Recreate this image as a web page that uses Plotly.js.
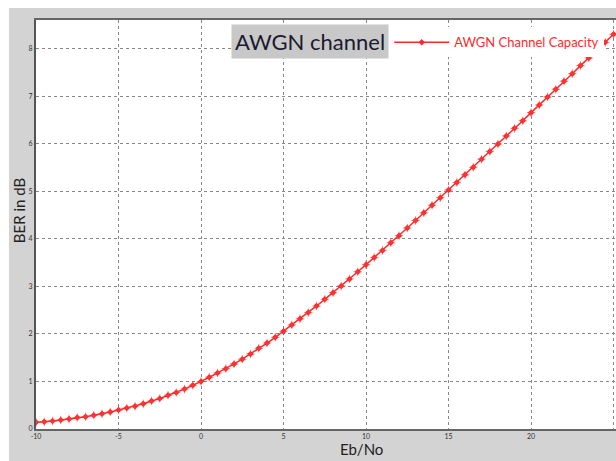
<!DOCTYPE html>
<html>
<head>
<meta charset="utf-8">
<script src="https://cdn.plot.ly/plotly-3.0.1.min.js"></script>
<style>
html,body{margin:0;padding:0;background:#ffffff;width:616px;height:461px;overflow:hidden;}
#chart{position:absolute;left:9px;top:8px;width:607px;height:453px;}
</style>
</head>
<body>
<div id="chart"></div>
<script>
// Eb/No values (dB), 0.5 dB steps
const ebno = [-10,-9.5,-9,-8.5,-8,-7.5,-7,-6.5,-6,-5.5,-5,-4.5,-4,-3.5,-3,-2.5,-2,-1.5,-1,-0.5,
  0,0.5,1,1.5,2,2.5,3,3.5,4,4.5,5,5.5,6,6.5,7,7.5,8,8.5,9,9.5,
  10,10.5,11,11.5,12,12.5,13,13.5,14,14.5,15,15.5,16,16.5,17,17.5,18,18.5,19,19.5,
  20,20.5,21,21.5,22,22.5,23,23.5,24,24.5,25];
// Capacity
const capacity = [0.14,0.15,0.17,0.19,0.21,0.24,0.26,0.29,0.32,0.36,0.40,0.44,0.48,0.53,0.59,0.64,0.71,0.77,0.84,0.92,
  1.00,1.09,1.18,1.27,1.37,1.47,1.58,1.70,1.81,1.93,2.06,2.19,2.32,2.45,2.59,2.73,2.87,3.01,3.16,3.31,
  3.46,3.61,3.76,3.92,4.07,4.23,4.39,4.55,4.71,4.87,5.03,5.19,5.35,5.51,5.68,5.84,6.00,6.17,6.33,6.49,
  6.66,6.82,6.99,7.15,7.32,7.48,7.65,7.81,7.98,8.14,8.31];
const xTicks = [-10,-5,0,5,10,15,20,25];
const yTicks = [0,1,2,3,4,5,6,7,8];
const seriesName = "AWGN Channel Capacity";
const titleText = "AWGN channel";
const xTitle = "Eb/No";
const yTitle = "BER in dB";

const red = "#ff2a2a";
const traces = [
  {x: ebno, y: capacity, type: "scatter", mode: "lines+markers", name: seriesName,
   line: {color: red, width: 1.5},
   marker: {symbol: "diamond", size: 5, color: red}},
  {x: ebno, y: capacity, type: "scatter", mode: "markers", showlegend: false, hoverinfo: "skip",
   marker: {symbol: "cross-thin-open", size: 6, color: "rgba(255,60,60,0.6)", line: {width: 1, color: "rgba(255,60,60,0.6)"}}}
];

const layout = {
  width: 607, height: 453,
  paper_bgcolor: "#d3d3d3", plot_bgcolor: "#ffffff",
  margin: {l: 27, r: 0, t: 12, b: 32},
  font: {family: "Lato, 'Open Sans', sans-serif", color: "#222"},
  showlegend: true,
  legend: {x: 0.609, y: 0.982, xanchor: "left", yanchor: "top", bgcolor: "#ffffff",
           borderwidth: 0, itemwidth: 55, font: {size: 13, color: red}},
  xaxis: {range: [-10, 25.15], tickvals: xTicks, ticktext: xTicks.map(String),
          tickfont: {size: 7, color: "#333"}, showgrid: true, gridcolor: "#888", griddash: "dot", gridwidth: 1,
          showline: true, linecolor: "#666", linewidth: 2, mirror: true, zeroline: false, ticks: "", ticklen: 0},
  yaxis: {range: [0, 8.61], tickvals: yTicks, ticktext: yTicks.map(String),
          tickfont: {size: 7, color: "#333"}, showgrid: true, gridcolor: "#888", griddash: "dot", gridwidth: 1,
          showline: true, linecolor: "#555", linewidth: 2, mirror: true, zeroline: false, ticks: "", ticklen: 0},
  annotations: [
    {text: titleText, xref: "paper", yref: "paper", x: 0.472, y: 0.948, xanchor: "center", yanchor: "middle",
     showarrow: false, bgcolor: "#c8c8c8", borderpad: 3, font: {size: 22, color: "#1a1a30"}},
    {text: yTitle, xref: "paper", yref: "paper", x: -0.029, y: 0.533, xanchor: "center", yanchor: "middle",
     showarrow: false, textangle: -90, font: {size: 15, color: "#222"}},
    {text: xTitle, xref: "paper", yref: "paper", x: 0.562, y: -0.049, xanchor: "center", yanchor: "middle",
     showarrow: false, font: {size: 15, color: "#222"}}
  ]
};

Plotly.newPlot("chart", traces, layout, {displayModeBar: false, staticPlot: true});
</script>
</body>
</html>
